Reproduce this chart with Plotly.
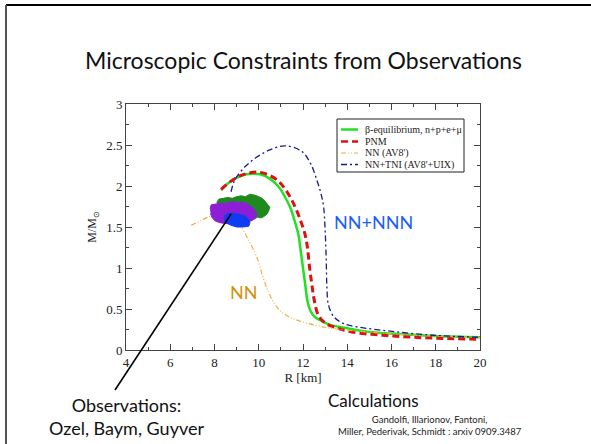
import plotly.graph_objects as go

# ---- data ----
green_R = [8.3, 8.6, 9.0, 9.4, 9.7, 10.1, 10.5, 10.9, 11.2, 11.45, 11.65, 11.8, 11.9, 12.0, 12.1, 12.2, 12.35, 12.55, 12.8, 13.2, 14.1, 15.0, 16.4, 18.0, 20.0]
green_M = [1.95, 2.03, 2.10, 2.14, 2.15, 2.14, 2.09, 1.99, 1.86, 1.72, 1.55, 1.40, 1.20, 1.00, 0.80, 0.60, 0.47, 0.40, 0.36, 0.31, 0.26, 0.22, 0.195, 0.17, 0.155]

red_R = [8.3, 8.7, 9.2, 9.6, 9.9, 10.3, 10.8, 11.2, 11.6, 11.9, 12.1, 12.2, 12.3, 12.4, 12.5, 12.7, 13.0, 13.4, 14.2, 15.6, 17.0, 18.5, 20.0]
red_M = [1.96, 2.05, 2.13, 2.16, 2.17, 2.15, 2.08, 1.96, 1.77, 1.57, 1.40, 1.25, 1.00, 0.80, 0.62, 0.42, 0.33, 0.28, 0.22, 0.18, 0.155, 0.14, 0.13]

nn_R = [6.95, 7.4, 7.8, 8.3, 8.8, 9.2, 9.5, 9.9, 10.2, 10.45, 10.7, 11.0, 11.4, 11.9, 12.6, 13.4, 14.9, 16.5, 17.9, 20.0]
nn_M = [1.52, 1.58, 1.63, 1.66, 1.62, 1.50, 1.36, 1.14, 0.88, 0.70, 0.57, 0.47, 0.40, 0.35, 0.30, 0.26, 0.22, 0.19, 0.17, 0.15]

tni_R = [8.75, 8.85, 9.0, 9.4, 9.9, 10.5, 11.2, 11.95, 12.35, 12.63, 12.8, 12.93, 13.0, 13.05, 13.08, 13.15, 13.38, 13.7, 14.1, 15.6, 17.9, 20.0]
tni_M = [1.93, 2.03, 2.11, 2.24, 2.35, 2.44, 2.49, 2.42, 2.27, 2.07, 1.92, 1.75, 1.46, 1.10, 0.77, 0.55, 0.41, 0.34, 0.30, 0.24, 0.18, 0.155]

obs_green_R = [8.1, 8.2, 8.4, 8.6, 8.8, 9.0, 9.2, 9.4, 9.6, 9.8, 10.0, 10.15, 10.3, 10.4, 10.5, 10.45, 10.38, 10.25, 10.1, 9.95, 9.8, 9.0, 8.3]
obs_green_M = [1.80, 1.84, 1.85, 1.86, 1.85, 1.87, 1.88, 1.87, 1.90, 1.89, 1.87, 1.85, 1.81, 1.77, 1.74, 1.70, 1.66, 1.63, 1.61, 1.62, 1.60, 1.62, 1.70]
obs_purple_R = [7.8, 7.85, 8.05, 8.3, 8.55, 8.8, 9.0, 9.2, 9.45, 9.6, 9.75, 9.85, 9.92, 9.85, 9.7, 9.4, 9.0, 8.6, 8.3, 8.05, 7.9, 7.82]
obs_purple_M = [1.72, 1.77, 1.78, 1.79, 1.79, 1.81, 1.80, 1.80, 1.79, 1.76, 1.73, 1.69, 1.65, 1.61, 1.58, 1.55, 1.54, 1.54, 1.55, 1.57, 1.61, 1.66]
obs_blue_R = [8.45, 8.6, 8.8, 9.0, 9.2, 9.4, 9.55, 9.6, 9.55, 9.3, 9.0, 8.75, 8.55, 8.42]
obs_blue_M = [1.64, 1.66, 1.67, 1.66, 1.65, 1.63, 1.59, 1.55, 1.51, 1.50, 1.50, 1.52, 1.55, 1.59]

pointer_R, pointer_M = 8.75, 1.66

x_range = [4, 20]
y_range = [0, 3]
x_ticks = [4, 6, 8, 10, 12, 14, 16, 18, 20]
y_ticks = [0, 0.5, 1, 1.5, 2, 2.5, 3]
y_tick_text = ["0", "0.5", "1", "1.5", "2", "2.5", "3"]

series_names = ["β-equilibrium, n+p+e+μ", "PNM", "NN (AV8')", "NN+TNI (AV8'+UIX)"]
series_colors = ["#22e022", "#dd1111", "#f0b040", "#1a1a90"]
series_widths = [2.5, 3, 1.2, 1.3]
series_dash = ["solid", "7px,4px", "5px,2px,1px,2px,1px,2px", "6px,3px,2px,3px"]

serif = "Liberation Serif"
sans = "Lato"

fig = go.Figure()
for xs, ys, nm, c, w, d in zip([green_R, red_R, nn_R, tni_R], [green_M, red_M, nn_M, tni_M],
                               series_names, series_colors, series_widths, series_dash):
    fig.add_trace(go.Scatter(x=xs, y=ys, mode="lines", name=nm, showlegend=False,
                             line=dict(color=c, width=w, dash=d, shape="spline")))
for bx, by, col in [(obs_green_R, obs_green_M, "#1e8a1e"),
                    (obs_purple_R, obs_purple_M, "#8c1fd6"),
                    (obs_blue_R, obs_blue_M, "#0f3cf0")]:
    fig.add_trace(go.Scatter(x=bx, y=by, mode="lines", fill="toself", fillcolor=col,
                             line=dict(color=col, width=1), showlegend=False,
                             hoverinfo="skip"))

axis_common = dict(showgrid=False, zeroline=False, ticks="inside", mirror="ticks",
                   showline=True, linecolor="#444", linewidth=1, ticklen=6, tickcolor="#444",
                   tickfont=dict(family=serif, size=13, color="#222"))

fig.update_xaxes(range=x_range, tickvals=x_ticks, **axis_common,
                 minor=dict(dtick=1, ticklen=3, ticks="inside", tickcolor="#444"),
                 title=dict(text="R [km]", font=dict(family=serif, size=13, color="#222"), standoff=0))
fig.update_yaxes(range=y_range, tickvals=y_ticks, ticktext=y_tick_text, **axis_common,
                 minor=dict(dtick=0.25, ticklen=3, ticks="inside", tickcolor="#444"),
                 title=dict(text="M/M<sub>⊙</sub>", font=dict(family=serif, size=12, color="#222"), standoff=6))

# helpers: pixel position -> paper coordinates of the plot area
def px_x(p):
    return (p - 126) / 354.0

def px_y(p):
    return (350 - p) / 246.0

annotations = [
    dict(text="Microscopic Constraints from Observations", xref="paper", yref="paper",
         x=0.5, y=px_y(60), xanchor="center", yanchor="middle", showarrow=False,
         font=dict(family=sans, size=23, color="#111")),
    dict(text="NN+NNN", x=15.2, y=1.56, showarrow=False, xanchor="center", yanchor="middle",
         font=dict(family=sans, size=18, color="#1a5cff")),
    dict(text="NN", x=9.34, y=0.71, showarrow=False, xanchor="center", yanchor="middle",
         font=dict(family=sans, size=18, color="#d4900a")),
    dict(text="Observations:<br>Ozel, Baym, Guyver", xref="paper", yref="paper",
         x=0.0, y=-0.27, xanchor="center", yanchor="middle", showarrow=False, align="center",
         font=dict(family=sans, size=18, color="#111")),
    dict(text="Calculations", xref="paper", yref="paper",
         x=0.70, y=-0.205, xanchor="center", yanchor="middle", showarrow=False,
         font=dict(family=sans, size=17, color="#111")),
    dict(text="Gandolfi, Illarionov, Fantoni,<br>Miller, Pederivak, Schmidt : arxiv 0909.3487",
         xref="paper", yref="paper", x=0.86, y=-0.305, xanchor="center", yanchor="middle",
         showarrow=False, align="center", font=dict(family=sans, size=9.5, color="#222")),
]

pointer_px = (pointer_R - x_range[0]) / (x_range[1] - x_range[0])
pointer_py = (pointer_M - y_range[0]) / (y_range[1] - y_range[0])

shapes = [
    dict(type="line", xref="paper", yref="paper", x0=-0.339, x1=1.35, y0=1.402, y1=1.402,
         line=dict(color="#000", width=2)),
    dict(type="line", xref="paper", yref="paper", x0=-0.339, x1=-0.339, y0=1.402, y1=-0.4,
         line=dict(color="#555", width=2)),
    dict(type="line", xref="paper", yref="paper", x0=pointer_px, y0=pointer_py,
         x1=px_x(115), y1=px_y(390), line=dict(color="#000", width=1.6), layer="above"),
    dict(type="rect", xref="paper", yref="paper", x0=px_x(337), x1=px_x(464), y0=px_y(172), y1=px_y(119),
         line=dict(color="#222", width=1), fillcolor="white", layer="above"),
]
row_y = [129.5, 141.5, 153, 164.5]
for i, nm in enumerate(series_names):
    shapes.append(dict(type="line", xref="paper", yref="paper", x0=px_x(341), x1=px_x(358),
                       y0=px_y(row_y[i]), y1=px_y(row_y[i]), layer="above",
                       line=dict(color=series_colors[i], width=min(series_widths[i], 2.5),
                                 dash=series_dash[i])))
    annotations.append(dict(text=nm, xref="paper", yref="paper", x=px_x(363), y=px_y(row_y[i]),
                            xanchor="left", yanchor="middle", showarrow=False,
                            font=dict(family=serif, size=10, color="#222")))

fig.update_layout(
    width=591, height=444,
    margin=dict(l=126, r=111, t=104, b=94),
    paper_bgcolor="white", plot_bgcolor="white",
    annotations=annotations, shapes=shapes,
    showlegend=False,
)

fig.write_html("out.html")
